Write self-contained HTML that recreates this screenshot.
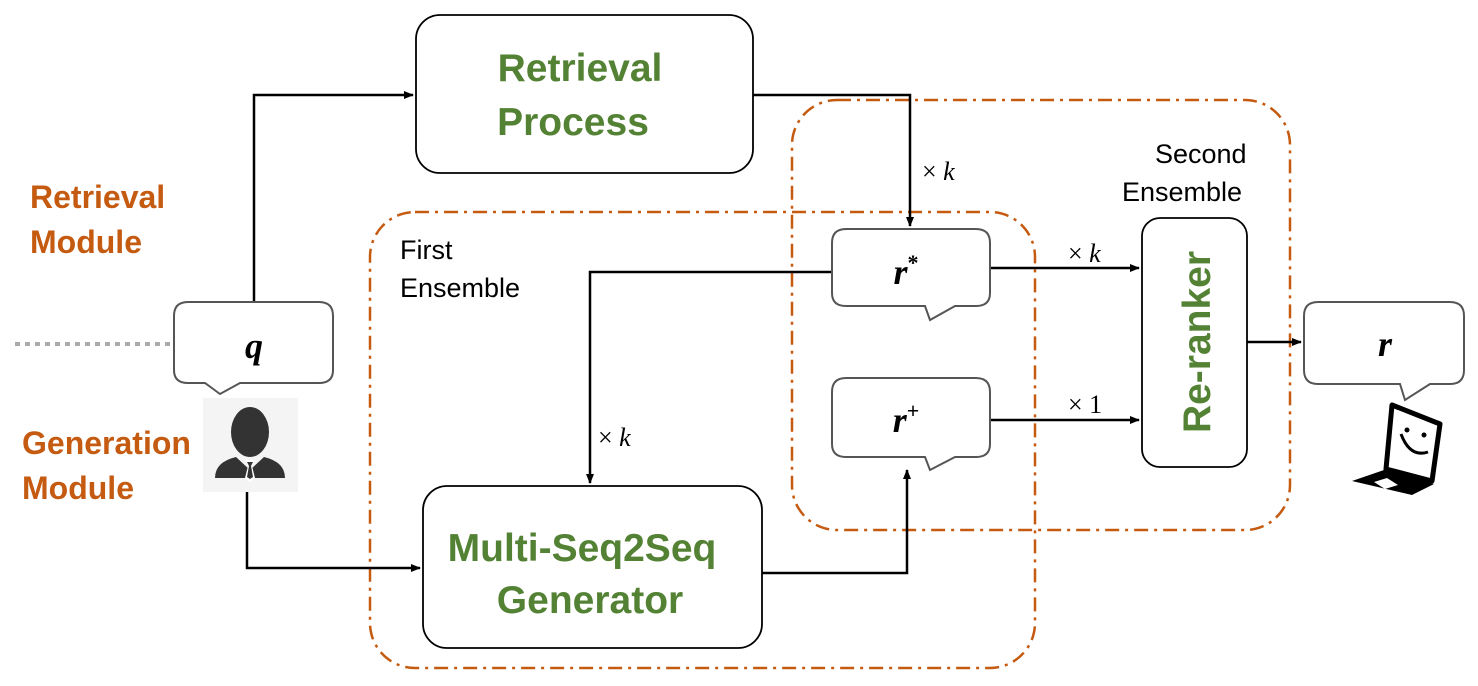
<!DOCTYPE html>
<html><head><meta charset="utf-8"><style>body{margin:0;background:#fff}svg{display:block}</style></head>
<body>
<svg width="1478" height="686" viewBox="0 0 1478 686" xmlns="http://www.w3.org/2000/svg">
<defs>
<marker id="a" markerWidth="10" markerHeight="10" refX="9" refY="5" orient="auto" markerUnits="userSpaceOnUse"><path d="M0,1 L10,5 L0,9 Z" fill="#000"/></marker>
</defs>
<g fill="none" stroke="#c55a11" stroke-width="2.5" stroke-dasharray="14,6,3,6">
<rect x="370" y="212" width="665" height="456" rx="45"/>
<rect x="792" y="100" width="498" height="430" rx="45"/>
</g>
<line x1="15" y1="344" x2="170" y2="344" stroke="#aaa" stroke-width="4" stroke-dasharray="5,5"/>
<g stroke="#000" stroke-width="2.5" fill="none">
<polyline points="254,302 254,95 413,95" marker-end="url(#a)"/>
<polyline points="753,95 910,95 910,226" marker-end="url(#a)"/>
<polyline points="247,492 247,568 420,568" marker-end="url(#a)"/>
<polyline points="832,272 590,272 590,483" marker-end="url(#a)"/>
<polyline points="762,573 907,573 907,470" marker-end="url(#a)"/>
<polyline points="990,268 1139,268" marker-end="url(#a)"/>
<polyline points="990,420 1139,420" marker-end="url(#a)"/>
<polyline points="1247,342 1301,342" marker-end="url(#a)"/>
</g>
<g fill="#fff" stroke="#000" stroke-width="1.8">
<rect x="416" y="15" width="337" height="158" rx="24"/>
<rect x="423" y="486" width="339" height="162" rx="24"/>
<rect x="1142" y="218" width="105" height="249" rx="18"/>
</g>
<g fill="#fff" stroke="#555" stroke-width="2">
<path d="M188,302 H319 Q333,302 333,316 V370 Q333,383 319,383 H240 L220,394 L205,383 H188 Q174,383 174,370 V316 Q174,302 188,302 Z"/>
<path d="M846,229 H976 Q990,229 990,243 V293 Q990,306 976,306 H955 L930,320 L925,306 H846 Q832,306 832,293 V243 Q832,229 846,229 Z"/>
<path d="M846,378 H976 Q990,378 990,392 V444 Q990,457 976,457 H955 L930,470 L925,457 H846 Q832,457 832,444 V392 Q832,378 846,378 Z"/>
<path d="M1318,302 H1450 Q1464,302 1464,316 V370 Q1464,384 1450,384 H1430 L1405,400 L1400,384 H1318 Q1304,384 1304,370 V316 Q1304,302 1318,302 Z"/>
</g>
<rect x="203" y="398" width="95" height="94" fill="#f4f4f4"/>
<g fill="#333">
<ellipse cx="250" cy="432" rx="19" ry="25"/>
<path d="M215,478 Q215,462 236,457 L250,470 L264,457 Q285,462 285,478 Z"/>
</g>
<path d="M245,460 L255,460 L252,466 L255,478 L250,482 L245,478 L248,466 Z" fill="#fff"/>
<path d="M247,462 L253,462 L251,466 L253,477 L250,479 L247,477 L249,466 Z" fill="#333"/>
<g>
<path d="M1392,405 L1440,424 L1432,481 L1386,469 Z" fill="#fff" stroke="#000" stroke-width="5" stroke-linejoin="round"/>
<path d="M1401,434 Q1410,458 1428,452" fill="none" stroke="#000" stroke-width="3"/>
<circle cx="1407" cy="430" r="2.5" fill="#000"/><circle cx="1424" cy="435" r="2.5" fill="#000"/>
<path d="M1384,470 L1434,484 L1412,495 L1352,481 Z" fill="#000"/>
<path d="M1374,482 L1387,478 L1398,485 L1385,489 Z" fill="#fff"/>
</g>
<g font-family="Liberation Sans, sans-serif" font-weight="bold" fill="#548235" font-size="39" text-anchor="middle">
<text x="580" y="81">Retrieval</text><text x="573" y="135">Process</text>
<text x="582" y="561">Multi-Seq2Seq</text><text x="590" y="613">Generator</text>
<text transform="translate(1210,342) rotate(-90)">Re-ranker</text>
</g>
<g font-family="Liberation Sans, sans-serif" font-weight="bold" fill="#c55a11" font-size="32">
<text x="30" y="208">Retrieval</text><text x="30" y="253">Module</text>
<text x="22" y="454">Generation</text><text x="22" y="499">Module</text>
</g>
<g font-family="Liberation Sans, sans-serif" font-size="27" fill="#000">
<text x="400" y="259">First</text><text x="400" y="297">Ensemble</text>
<text x="1155" y="163">Second</text><text x="1122" y="201">Ensemble</text>
</g>
<g font-family="Liberation Serif, serif" font-size="26" fill="#000">
<text x="922" y="180">× <tspan font-style="italic">k</tspan></text>
<text x="598" y="446">× <tspan font-style="italic">k</tspan></text>
<text x="1068" y="262">× <tspan font-style="italic">k</tspan></text>
<text x="1068" y="413">× 1</text>
</g>
<g font-family="Liberation Serif, serif" font-weight="bold" font-style="italic" font-size="36" fill="#000" text-anchor="middle">
<text x="254" y="358">q</text>
<text x="1385" y="356">r</text>
<text x="906" y="284">r<tspan font-size="22" dy="-14" font-style="normal">*</tspan></text>
<text x="906" y="432">r<tspan font-size="22" dy="-14" font-style="normal">+</tspan></text>
</g>
</svg>
</body></html>
